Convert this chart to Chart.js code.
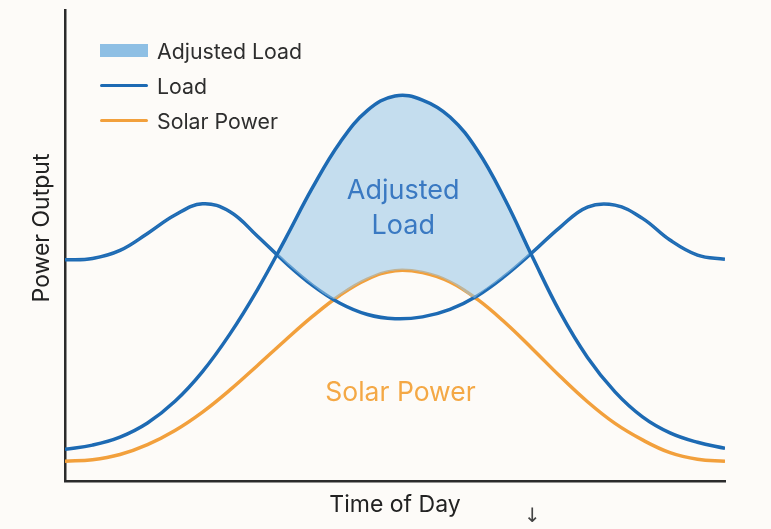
<!DOCTYPE html>
<html>
<head>
<meta charset="utf-8">
<script src="https://cdn.jsdelivr.net/npm/chart.js@4/dist/chart.umd.min.js"></script>
<style>
  html, body { margin: 0; padding: 0; background: #fdfbf8; }
  #wrap { position: relative; width: 771px; height: 529px; overflow: hidden; }
  #legend { position: absolute; left: 100px; top: 33px; font-family: Inter, "Liberation Sans", sans-serif; font-size: 21.3px; color: #2e2e2e; }
  .item { display: flex; align-items: center; height: 35px; }
  .sw { width: 48px; margin-right: 9px; }
  #arrow { position: absolute; left: 524px; top: 503px; font-family: "DejaVu Sans", sans-serif; font-size: 20px; color: #444; }
</style>
</head>
<body>
<div id="wrap">
  <canvas id="c" width="771" height="529"></canvas>
  <div id="legend"></div>
  <div id="arrow">↓</div>
</div>
<script>
// ---- data ----
const hours = [0,1,2,3,4,5,6,7,8,9,10,11,12,13,14,15,16,17,18,19,20,21,22,23,24];
const loadValues = [47.0,47.3,49.0,52.6,56.5,58.9,57.2,52.0,46.5,41.6,37.8,35.4,34.5,34.9,36.5,39.4,43.6,48.6,53.9,58.2,58.6,55.8,51.2,48.0,47.1];
const peakLoadValues = [6.8,7.7,9.4,12.4,17.0,23.3,31.3,40.7,51.3,62.3,71.9,78.7,81.75,80.9,77.3,70.2,59.8,47.6,35.9,26.3,19.0,13.7,10.3,8.3,7.0];
const solarValues = [4.3,4.6,5.7,7.8,10.8,14.7,19.4,24.6,29.9,35.0,39.5,42.9,44.7,44.3,42.3,38.6,33.7,28.1,22.3,16.9,12.3,8.8,6.1,4.7,4.3];
// lower edge of the shaded "Adjusted Load" region
const baseHours = [0,1,2,3,4,5,6,7,8,9,9.75,10,11,12,13,14,14.87,15,16,17,18,19,20,21,22,23,24];
const baseValues = [47.0,47.3,49.0,52.6,56.5,58.9,57.2,52.0,46.5,41.6,38.7,39.5,42.9,44.7,44.3,42.3,38.9,39.4,43.6,48.6,53.9,58.2,58.6,55.8,51.2,48.0,47.1];
const legendLabels = ['Adjusted Load', 'Load', 'Solar Power'];
const axisTitles = { x: 'Time of Day', y: 'Power Output' };

const BLUE = '#1d6ab3';
const ORANGE = '#f2a03c';
const FILL = 'rgba(150,196,230,0.55)';
const LEGEND_FILL = '#8ebfe4';
const FONT = 'Inter, "Liberation Sans", sans-serif';

const pts = (xs, ys) => xs.map((x, i) => ({ x: x, y: ys[i] }));

const annotations = {
  id: 'annotations',
  afterDatasetsDraw(chart) {
    const { ctx, scales: { x, y } } = chart;
    ctx.save();
    ctx.textAlign = 'center';
    ctx.textBaseline = 'middle';
    ctx.font = '27px ' + FONT;
    ctx.fillStyle = '#3a79c2';
    ctx.fillText('Adjusted', x.getPixelForValue(12.3), y.getPixelForValue(61.6));
    ctx.fillText('Load', x.getPixelForValue(12.3), y.getPixelForValue(54.2));
    ctx.fillStyle = '#f4a845';
    ctx.font = '26.5px ' + FONT;
    ctx.fillText('Solar Power', x.getPixelForValue(12.2), y.getPixelForValue(18.7));
    // y axis title (placed like the reference, a little above centre)
    ctx.fillStyle = '#222';
    ctx.font = '23px ' + FONT;
    ctx.translate(42, 228);
    ctx.rotate(-Math.PI / 2);
    ctx.fillText(axisTitles.y, 0, 0);
    ctx.restore();
  }
};

const common = { borderWidth: 3.5, pointRadius: 0, tension: 0.4 };

const chart = new Chart(document.getElementById('c'), {
  type: 'line',
  data: {
    datasets: [
      { label: 'base', data: pts(baseHours, baseValues), borderWidth: 0, pointRadius: 0, tension: 0.4, fill: false, borderColor: 'rgba(0,0,0,0)' },
      Object.assign({ label: legendLabels[0], data: pts(hours, peakLoadValues), borderColor: BLUE,
        fill: { target: 0, above: FILL, below: 'rgba(0,0,0,0)' } }, common),
      Object.assign({ label: legendLabels[1], data: pts(hours, loadValues), borderColor: BLUE, fill: false }, common),
      Object.assign({ label: legendLabels[2], data: pts(hours, solarValues), borderColor: ORANGE, fill: false }, common)
    ]
  },
  options: {
    responsive: false,
    animation: false,
    layout: { padding: { left: 28, right: 46, top: 10, bottom: 8 } },
    plugins: { legend: { display: false }, tooltip: { enabled: false }, title: { display: false } },
    scales: {
      x: {
        type: 'linear', min: 0, max: 24,
        grid: { display: false },
        border: { display: true, color: '#2b2b2b', width: 2.5 },
        ticks: { display: false },
        title: { display: true, text: axisTitles.x, color: '#222', font: { family: FONT, size: 23 }, padding: { top: 2, bottom: 2 } }
      },
      y: {
        min: 0, max: 100,
        grid: { display: false },
        border: { display: true, color: '#2b2b2b', width: 2.5 },
        ticks: { display: false },
        title: { display: false },
        afterFit(s) { s.width = 37; }
      }
    }
  },
  plugins: [annotations]
});

// HTML legend built from the chart's datasets
const legendEl = document.getElementById('legend');
[
  { text: legendLabels[0], kind: 'box', color: LEGEND_FILL },
  { text: legendLabels[1], kind: 'line', color: chart.data.datasets[2].borderColor },
  { text: legendLabels[2], kind: 'line', color: chart.data.datasets[3].borderColor }
].forEach(it => {
  const row = document.createElement('div');
  row.className = 'item';
  const sw = document.createElement('span');
  sw.className = 'sw';
  sw.style.background = it.color;
  sw.style.height = it.kind === 'box' ? '13px' : '3.5px';
  sw.style.borderRadius = it.kind === 'box' ? '0' : '2px';
  const t = document.createElement('span');
  t.textContent = it.text;
  row.appendChild(sw); row.appendChild(t);
  legendEl.appendChild(row);
});
</script>
</body>
</html>
